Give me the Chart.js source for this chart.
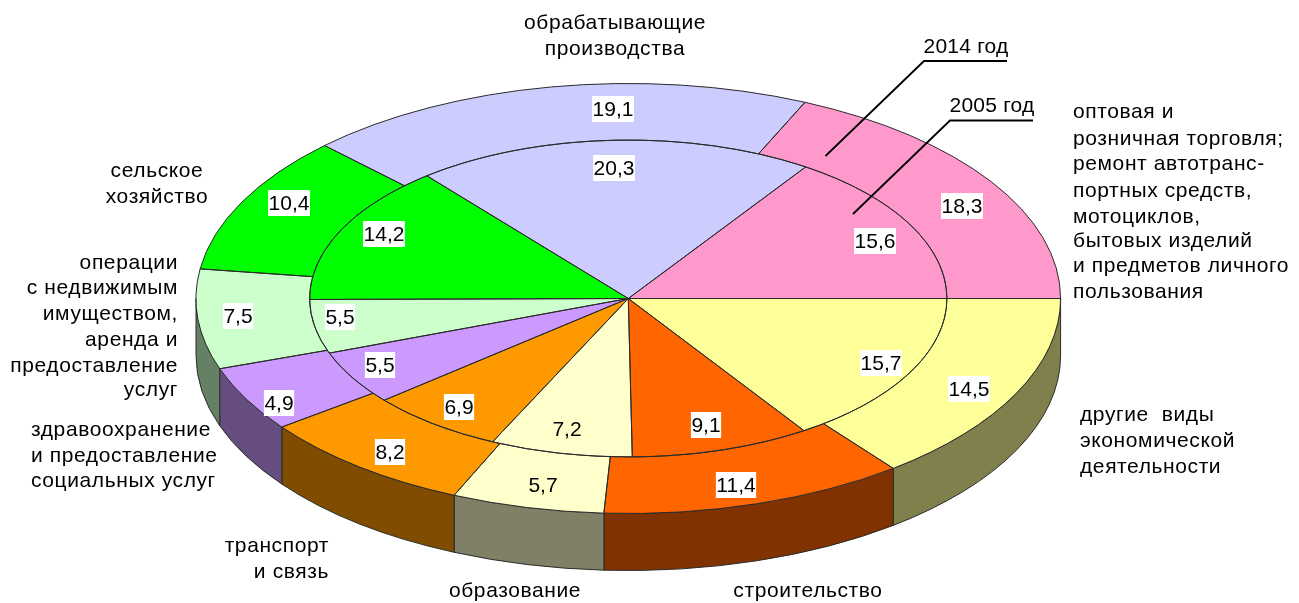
<!DOCTYPE html>
<html><head><meta charset="utf-8">
<style>html,body{margin:0;padding:0;background:#fff}canvas{display:block}</style>
<script src="https://cdn.jsdelivr.net/npm/chart.js@4"></script></head>
<body><canvas id="c" width="1299" height="603"></canvas>
<script>
// Data, in order counter-clockwise from 3 o'clock (as in the picture)
const categories = ["оптовая торговля","обрабатывающие производства","сельское хозяйство","операции с недвижимым имуществом","здравоохранение","транспорт и связь","образование","строительство","другие виды"];
const values2014 = [18.3,19.1,10.4,7.5,4.9,8.2,5.7,11.4,14.5];
const values2005 = [15.6,20.3,14.2,5.5,5.5,6.9,7.2,9.1,15.7];
const topColors  = ["#FF99CC","#CCCCFF","#00FF00","#CCFFCC","#CC99FF","#FF9900","#FFFFCC","#FF6600","#FFFF99"];
const wallColors = ["#804D66","#666680","#008000","#668066","#664D80","#804D00","#808066","#803300","#80804D"];

// Annotation text, separate from the data
const valueLabels = [["19,1",613,109],["20,3",614,168],["18,3",962,206],["15,6",875,241],["10,4",289,203],["14,2",384,234],["7,5",238,316],["5,5",340,317],["5,5",380,365],["4,9",279,403],["6,9",459,407],["8,2",390,452],["7,2",567,429,0],["5,7",543,485,0],["9,1",706,425],["11,4",736,485],["15,7",881,363],["14,5",969,389]];
const textBlocks = [
 ["center",615,[["обрабатывающие",29],["производства",55]]],
 ["center",157,[["сельское",177],["хозяйство",203]]],
 ["right",178,[["операции",269],["с недвижимым",294],["имуществом,",320],["аренда и",346],["предоставление",372],["услуг",396]]],
 ["left",31,[["здравоохранение",436],["и предоставление",462],["социальных услуг",487]]],
 ["right",329,[["транспорт",552],["и связь",578]]],
 ["center",515,[["образование",597]]],
 ["center",808,[["строительство",597]]],
 ["left",1080,[["другие  виды",421],["экономической",447],["деятельности",473]]],
 ["left",1073,[["оптовая и",118],["розничная торговля;",145],["ремонт автотранс-",170],["портных средств,",197],["мотоциклов,",223],["бытовых изделий",247],["и предметов личного",272],["пользования",298]]]
];
const yearLabels = [["2014 год",966,53],["2005 год",992,112]];
const leaders = [[[1007,61],[924,61],[825.5,156]],[[1033,120.5],[950,120.5],[853,214]]];

// Projection of the flat pie onto the tilted disc
const CX=628.3, CY=298.5, RX=432.3, RY=215, DEPTH=57;

const rev = a => a.slice().reverse();
const tilt = {
  id:'tilt',
  beforeDatasetsDraw(chart){
    const ctx=chart.ctx, outer=chart.getDatasetMeta(0).data;
    const k=RX/outer[0].outerRadius, ky=RY/outer[0].outerRadius;
    // side walls from the outer ring's own angles
    outer.forEach((el,i)=>{
      const a0=Math.max(el.startAngle,0), a1=Math.min(el.endAngle,Math.PI);
      if(a1<=a0) return;
      ctx.beginPath();
      ctx.ellipse(CX,CY,RX,RY,0,a0,a1);
      ctx.lineTo(CX+RX*Math.cos(a1),CY+RY*Math.sin(a1)+DEPTH);
      ctx.ellipse(CX,CY+DEPTH,RX,RY,0,a1,a0,true);
      ctx.closePath();
      ctx.fillStyle=rev(wallColors)[i];
      ctx.fill();
      ctx.strokeStyle='#2a2a2a';ctx.lineWidth=1;ctx.stroke();
    });
    ctx.save();
    const e=outer[0];
    ctx.translate(CX,CY);ctx.scale(k,ky);ctx.translate(-e.x,-e.y);
  },
  afterDatasetsDraw(chart){
    const ctx=chart.ctx;
    ctx.restore();
    // outlines in screen space so that they keep an even width
    const R0=chart.getDatasetMeta(0).data[0].outerRadius;
    const rx=r=>r/R0*RX, ry=r=>r/R0*RY;
    ctx.strokeStyle='#2a2a2a';ctx.lineWidth=1;
    [0,1].forEach(d=>chart.getDatasetMeta(d).data.forEach(el=>{
      ctx.beginPath();
      ctx.ellipse(CX,CY,rx(el.outerRadius),ry(el.outerRadius),0,el.startAngle,el.endAngle);
      if(el.innerRadius>0) ctx.ellipse(CX,CY,rx(el.innerRadius),ry(el.innerRadius),0,el.endAngle,el.startAngle,true);
      else ctx.lineTo(CX,CY);
      ctx.closePath();ctx.stroke();
    }));
    // leader lines
    ctx.strokeStyle='#000';ctx.lineWidth=1.8;
    leaders.forEach(p=>{ctx.beginPath();p.forEach((q,i)=>i?ctx.lineTo(q[0],q[1]):ctx.moveTo(q[0],q[1]));ctx.stroke();});
    // texts
    ctx.font='21px "Liberation Sans", Arial, sans-serif';
    ctx.fillStyle='#000';
    ctx.textBaseline='alphabetic';
    ctx.letterSpacing='0.6px';
    textBlocks.forEach(([al,x,lines])=>{ctx.textAlign=al;lines.forEach(([t,y])=>ctx.fillText(t,x,y));});
    ctx.letterSpacing='0.2px';
    ctx.textAlign='center';
    yearLabels.forEach(([t,x,y])=>ctx.fillText(t,x,y));
    ctx.letterSpacing='0px';
    ctx.textBaseline='middle';
    valueLabels.forEach(([t,x,y,box])=>{
      const w=ctx.measureText(t).width+1;
      if(box!==0){ctx.fillStyle='#fff';ctx.fillRect(x-w/2,y-13,w,26);}
      ctx.fillStyle='#000';ctx.fillText(t,x,y+1);
    });
  }
};
Chart.defaults.font.family='"Liberation Sans", Arial, sans-serif';
new Chart(document.getElementById('c'),{
  type:'doughnut',
  data:{labels:rev(categories),datasets:[
    {label:'2014 год',data:rev(values2014),backgroundColor:rev(topColors),borderWidth:0,weight:113.7,clip:false},
    {label:'2005 год',data:rev(values2005),backgroundColor:rev(topColors),borderWidth:0,weight:318.6,clip:false}
  ]},
  options:{responsive:false,animation:false,rotation:90,cutout:0,
    layout:{padding:0},events:[],
    plugins:{legend:{display:false},tooltip:{enabled:false},title:{display:false}}},
  plugins:[tilt]
});
</script></body></html>
